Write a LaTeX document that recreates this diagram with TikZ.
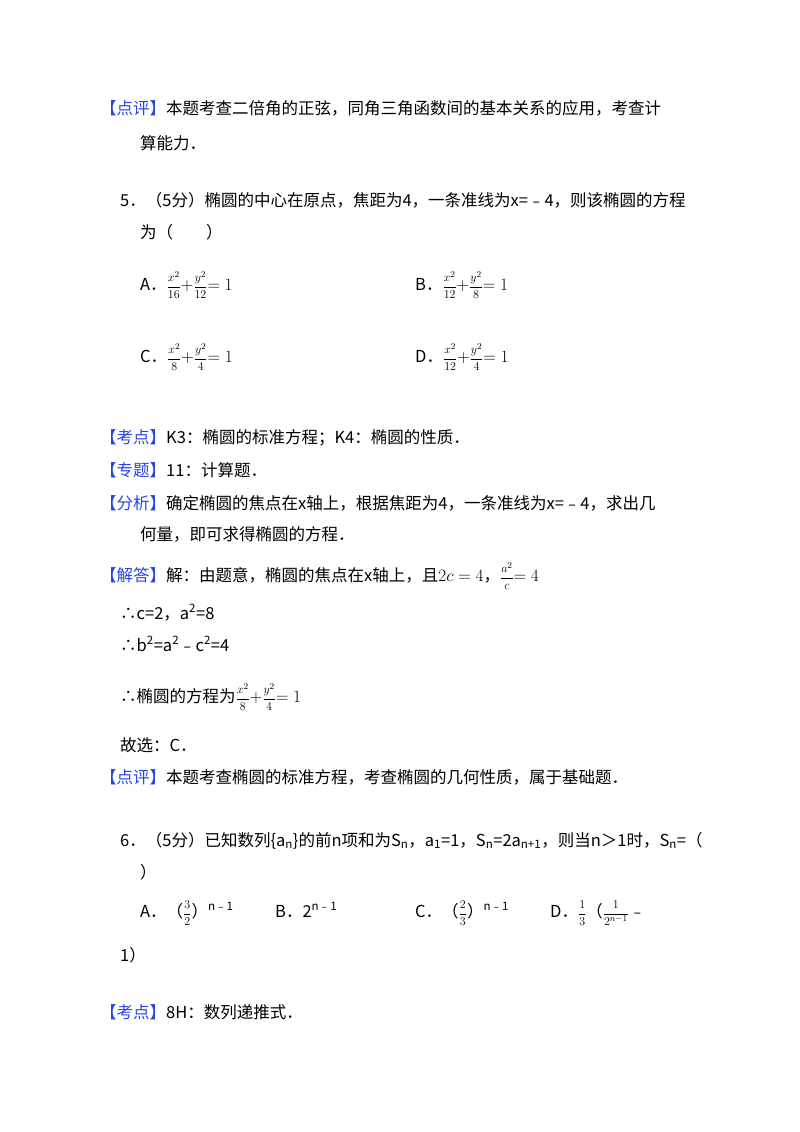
\documentclass[tikz,border=0pt]{standalone}
\usepackage{amsmath}
\usepackage{fontspec}
\setmainfont{Noto Sans CJK SC}
\definecolor{lbl}{RGB}{40,70,230}
\newcommand{\lbltag}[1]{\textcolor{lbl}{【#1】}}
\newcommand{\fr}[2]{{\fontsize{13}{15}\selectfont$\dfrac{#1}{#2}$}}
\begin{document}
\begin{tikzpicture}[x=1pt,y=-1pt,
  t/.style={anchor=base west,inner sep=0pt,font=\fontsize{16.5}{19}\selectfont}]
\useasboundingbox[fill=white] (0,0) rectangle (800,1132);
\node[t] (l1) at (100,114) {\lbltag{点评}本题考查二倍角的正弦，同角三角函数间的基本关系的应用，考查计};
\node[t] (l2) at (140,149) {算能力．};
\node[t] (l3) at (120,206) {5．（5分）椭圆的中心在原点，焦距为4，一条准线为x=﹣4，则该椭圆的方程};
\node[t] (l4) at (140,238) {为（\qquad）};
\node[t] (a) at (140,290) {A．\fr{x^2}{16}$+$\fr{y^2}{12}$=1$};
\node[t] (b) at (415,290) {B．\fr{x^2}{12}$+$\fr{y^2}{8}$=1$};
\node[t] (c) at (140,362) {C．\fr{x^2}{8}$+$\fr{y^2}{4}$=1$};
\node[t] (d) at (415,362) {D．\fr{x^2}{12}$+$\fr{y^2}{4}$=1$};
\node[t] (k1) at (100,443) {\lbltag{考点}K3：椭圆的标准方程；K4：椭圆的性质．};
\node[t] (k2) at (100,476) {\lbltag{专题}11：计算题．};
\node[t] (k3) at (100,509) {\lbltag{分析}确定椭圆的焦点在x轴上，根据焦距为4，一条准线为x=﹣4，求出几};
\node[t] (k4) at (140,540) {何量，即可求得椭圆的方程．};
\node[t] (k5) at (100,581) {\lbltag{解答}解：由题意，椭圆的焦点在x轴上，且$2c=4$，\fr{a^2}{c}$=4$};
\node[t] (k6) at (120,619) {∴c=2，a\textsuperscript{2}=8};
\node[t] (k7) at (120,651) {∴b\textsuperscript{2}=a\textsuperscript{2}﹣c\textsuperscript{2}=4};
\node[t] (k8) at (120,702) {∴椭圆的方程为\fr{x^2}{8}$+$\fr{y^2}{4}$=1$};
\node[t] (k9) at (120,751) {故选：C．};
\node[t] (k10) at (100,783) {\lbltag{点评}本题考查椭圆的标准方程，考查椭圆的几何性质，属于基础题．};
\node[t] (q6) at (120,846) {6．（5分）已知数列\{a\textsubscript{n}\}的前n项和为S\textsubscript{n}，a\textsubscript{1}=1，S\textsubscript{n}=2a\textsubscript{n+1}，则当n＞1时，S\textsubscript{n}=（};
\node[t] (q6b) at (140,878) {）};
\node[t] (oa) at (140,917) {A．（\fr{3}{2}）\textsuperscript{n﹣1}};
\node[t] (ob) at (275,917) {B．2\textsuperscript{n﹣1}};
\node[t] (oc) at (415,917) {C．（\fr{2}{3}）\textsuperscript{n﹣1}};
\node[t] (od) at (550,917) {D．\fr{1}{3}（\fr{1}{2^{n-1}}﹣};
\node[t] (oe) at (120,961) {1）};
\node[t] (k11) at (100,1018) {\lbltag{考点}8H：数列递推式．};
\end{tikzpicture}
\end{document}
